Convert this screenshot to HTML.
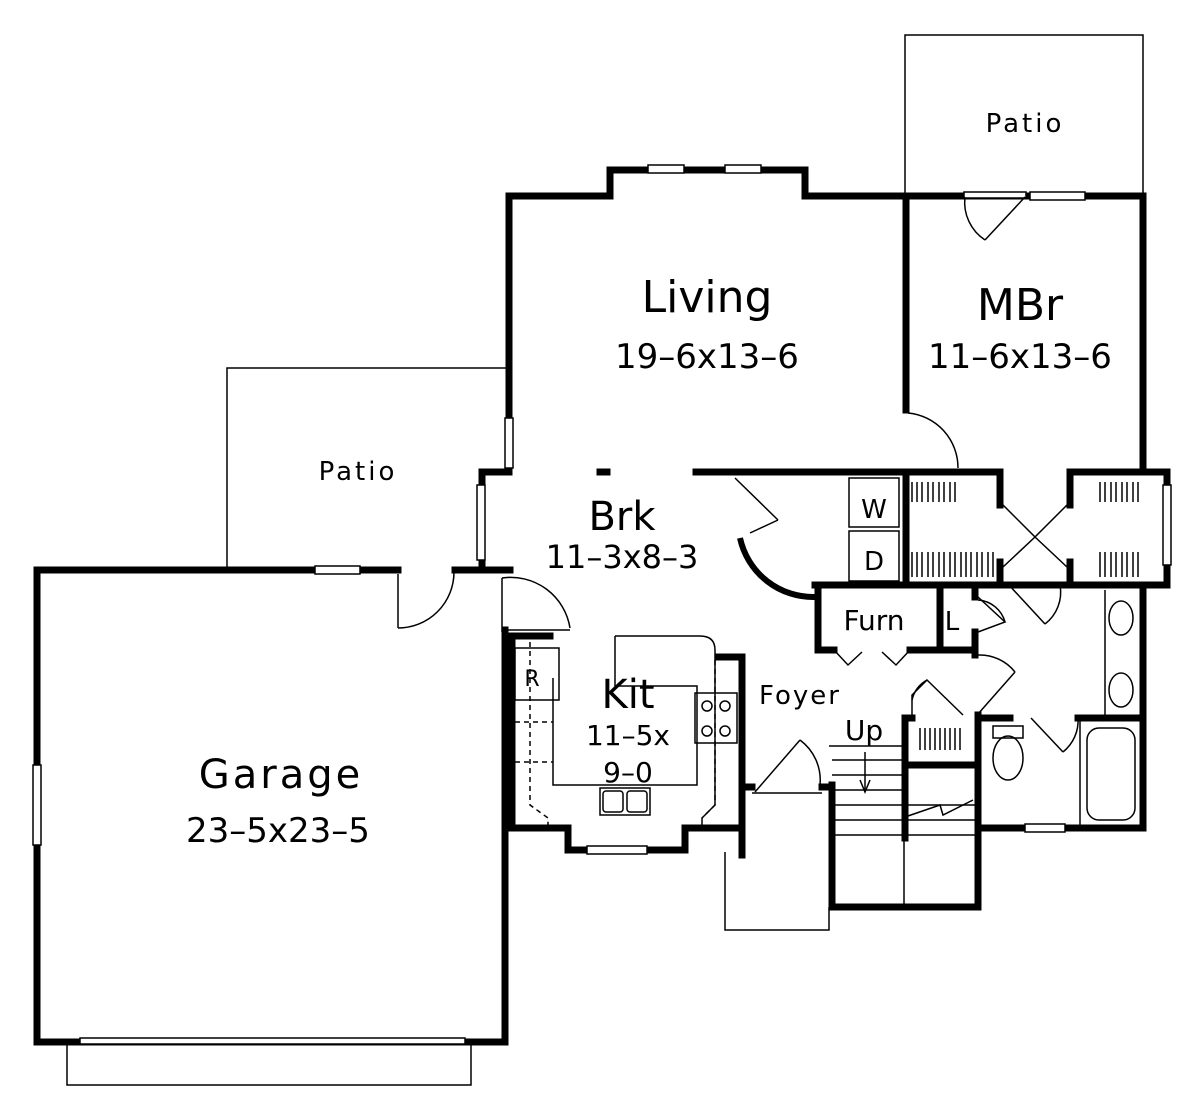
<!DOCTYPE html>
<html><head><meta charset="utf-8"><style>
html,body{margin:0;padding:0;background:#fff}
svg{display:block}
text{font-family:"DejaVu Sans","Liberation Sans",sans-serif;fill:#000}
</style></head><body>
<svg width="1200" height="1101" viewBox="0 0 1200 1101" xmlns="http://www.w3.org/2000/svg">
<rect width="1200" height="1101" fill="#fff"/>
<g fill="none" stroke="#000" stroke-width="1.5">
<polyline points="227,570 227,368 509,368"/>
<polyline points="905,196 905,35 1143,35 1143,196"/>
<rect x="67" y="1042" width="404" height="43"/>
<polyline points="725,852 725,930 829,930 829,907"/>
</g>
<g stroke="#000" stroke-width="7" fill="none" stroke-linecap="square">
<polyline points="398,570 37,570 37,1042 505,1042 505,630"/>
<line x1="455" y1="570" x2="510" y2="570"/>
<polyline points="482,568 482,472 509,472 509,196 610,196 610,170 805,170 805,196 1143,196 1143,472"/>
<line x1="600" y1="472" x2="607" y2="472"/>
<line x1="696" y1="472" x2="1000" y2="472"/>
<line x1="906" y1="196" x2="906" y2="410"/>
<line x1="906" y1="472" x2="906" y2="585"/>
<polyline points="1000,472 1000,505"/>
<line x1="1000" y1="562" x2="1000" y2="585"/>
<polyline points="1070,505 1070,472 1167,472 1167,585 1070,585 1070,562"/>
<line x1="815" y1="585" x2="1143" y2="585"/>
<polyline points="834,650 818,650 818,585"/>
<polyline points="910,650 940,650 940,585"/>
<line x1="940" y1="650" x2="975" y2="650"/>
<line x1="975" y1="585" x2="975" y2="597"/>
<line x1="975" y1="632" x2="975" y2="655"/>
<polyline points="1143,585 1143,828 978,828 978,715"/>
<line x1="978" y1="718" x2="1010" y2="718"/>
<line x1="1078" y1="718" x2="1143" y2="718"/>
<polyline points="832,785 832,907 978,907 978,715"/>
<line x1="905" y1="718" x2="905" y2="838"/>
<line x1="905" y1="718" x2="912" y2="718"/>
<line x1="905" y1="765" x2="978" y2="765"/>
<polyline points="512,636 512,828 568,828 568,850 685,850 685,828 742,828"/>
<polyline points="718,657 742,657 742,855"/>
<line x1="512" y1="636" x2="550" y2="636"/>
<line x1="742" y1="787" x2="752" y2="787"/>
<line x1="822" y1="787" x2="832" y2="787"/>
</g>
<g fill="#fff" stroke="#000" stroke-width="1.5">
<rect x="315" y="566" width="45" height="8"/><rect x="648" y="165" width="36" height="8"/><rect x="725" y="165" width="36" height="8"/>
<rect x="1030" y="192" width="55" height="8"/><rect x="33" y="765" width="8" height="80"/>
<rect x="505" y="418" width="8" height="50"/><rect x="477" y="485" width="8" height="75"/>
<rect x="1163" y="485" width="8" height="80"/><rect x="587" y="846" width="60" height="8"/>
<rect x="1025" y="824" width="40" height="8"/>
<rect x="80" y="1038" width="385" height="6"/>
<rect x="964" y="192" width="62" height="6"/>
</g>
<g fill="none" stroke="#000" stroke-width="1.5">
<line x1="398" y1="574" x2="398" y2="628"/><path d="M398,628 A56,56 0 0 0 454,572"/>
<line x1="502" y1="578" x2="502" y2="632"/><path d="M502,578 A60,60 0 0 1 570,628"/><line x1="505" y1="630" x2="570" y2="630"/>
<line x1="1025" y1="197" x2="985" y2="240"/><path d="M985,240 A45,45 0 0 1 965,197"/>
<path d="M908,413 A55,55 0 0 1 958,468"/>
<line x1="735" y1="478" x2="778" y2="520"/>
<line x1="778" y1="520" x2="750" y2="533"/>
<line x1="755" y1="792" x2="800" y2="740"/><path d="M800,740 A50,50 0 0 1 820,785"/>
<line x1="752" y1="793" x2="822" y2="793"/>
<polyline points="834,650 848,665 862,652"/><polyline points="882,652 896,665 910,650"/>
<polyline points="978,597 1005,622 978,632"/>
<path d="M1005,622 A30,30 0 0 0 978,600" />
<path d="M978,655 A45,45 0 0 1 1015,672"/>
<line x1="1015" y1="672" x2="978" y2="714"/>
<polyline points="1003,505 1035,537 1003,567"/><polyline points="1067,505 1035,537 1067,567"/>
<line x1="1008" y1="584" x2="1045" y2="624"/><path d="M1045,624 A40,40 0 0 0 1060,585"/>
<polyline points="912,718 912,695 927,680 963,715"/>
<path d="M912,700 A30,30 0 0 1 927,680"/>
<line x1="1031" y1="718" x2="1063" y2="752"/><path d="M1063,752 A40,40 0 0 0 1078,718"/>
<line x1="1080" y1="718" x2="1080" y2="828"/><rect x="1087" y="728" width="48" height="92" rx="12"/>
<rect x="993" y="726" width="30" height="12"/><ellipse cx="1008" cy="758" rx="15" ry="22"/>
<line x1="1105" y1="590" x2="1105" y2="715"/><ellipse cx="1121" cy="618" rx="12" ry="17"/><ellipse cx="1121" cy="690" rx="12" ry="17"/>
<rect x="849" y="478" width="50" height="49"/><rect x="849" y="531" width="50" height="50"/>
<line x1="829" y1="746" x2="905" y2="746"/>
<line x1="832" y1="760" x2="905" y2="760"/><line x1="832" y1="775" x2="905" y2="775"/>
<line x1="832" y1="790" x2="905" y2="790"/><line x1="832" y1="805" x2="978" y2="805"/>
<line x1="832" y1="820" x2="978" y2="820"/><line x1="832" y1="835" x2="978" y2="835"/>
<line x1="904" y1="835" x2="904" y2="907"/>
<polyline points="905,817 940,805 943,815 973,800"/>
<line x1="865" y1="752" x2="865" y2="792"/><polyline points="860,780 865,792 870,780"/>
<path d="M615,636 L700,636 Q715,636 715,650 L715,805 L702,818 L702,828"/>
<polyline points="615,636 615,686 697,686 697,785 553,785 553,678"/>
<path d="M530,642 L530,805 L548,818 L548,828" stroke-dasharray="5,4"/>
<path d="M715,660 L715,805 L702,818" stroke-dasharray="5,4"/>
<line x1="515" y1="722" x2="553" y2="722" stroke-dasharray="5,4"/>
<line x1="515" y1="762" x2="553" y2="762" stroke-dasharray="5,4"/>
<rect x="515" y="648" width="44" height="52"/>
<rect x="695" y="693" width="42" height="50"/>
<circle cx="707" cy="706" r="5"/><circle cx="725" cy="706" r="5"/><circle cx="707" cy="731" r="5"/><circle cx="725" cy="731" r="5"/>
<rect x="600" y="788" width="50" height="27"/><rect x="603" y="791" width="20" height="21" rx="3"/><rect x="627" y="791" width="20" height="21" rx="3"/>
</g>
<path d="M740,538 A75,75 0 0 0 815,597" fill="none" stroke="#000" stroke-width="6"/>
<g stroke="#000" stroke-width="1.5">
<path d="M912,482v20M917,482v20M922,482v20M928,482v20M933,482v20M939,482v20M944,482v20M950,482v20M955,482v20
M912,552v25M917,552v25M922,552v25M928,552v25M933,552v25M939,552v25M944,552v25M950,552v25M955,552v25M961,552v25M966,552v25M971,552v25M977,552v25M982,552v25M988,552v25M993,552v25
M1100,482v20M1105,482v20M1111,482v20M1116,482v20M1122,482v20M1127,482v20M1133,482v20M1138,482v20
M1100,552v25M1105,552v25M1111,552v25M1116,552v25M1122,552v25M1127,552v25M1133,552v25M1138,552v25
M920,728v22M925,728v22M930,728v22M935,728v22M940,728v22M945,728v22M950,728v22M955,728v22M960,728v22"/>
</g>
<g text-anchor="middle">
<text x="1025" y="132" font-size="26" letter-spacing="3">Patio</text>
<text x="358" y="480" font-size="26" letter-spacing="3">Patio</text>
<text x="707" y="312" font-size="44">Living</text>
<text x="707" y="368" font-size="34">19–6x13–6</text>
<text x="1020" y="320" font-size="44">MBr</text>
<text x="1020" y="368" font-size="34">11–6x13–6</text>
<text x="622" y="530" font-size="40">Brk</text>
<text x="622" y="568" font-size="32">11–3x8–3</text>
<text x="628" y="708" font-size="40">Kit</text>
<text x="628" y="745" font-size="28">11–5x</text>
<text x="628" y="782" font-size="28">9–0</text>
<text x="281" y="788" font-size="40" letter-spacing="3">Garage</text>
<text x="278" y="842" font-size="34">23–5x23–5</text>
<text x="874" y="630" font-size="28">Furn</text>
<text x="952" y="630" font-size="26">L</text>
<text x="874" y="518" font-size="26">W</text>
<text x="874" y="570" font-size="26">D</text>
<text x="532" y="686" font-size="22">R</text>
<text x="800" y="704" font-size="26" letter-spacing="2">Foyer</text>
<text x="864" y="740" font-size="28">Up</text>
</g>
</svg>
</body></html>
